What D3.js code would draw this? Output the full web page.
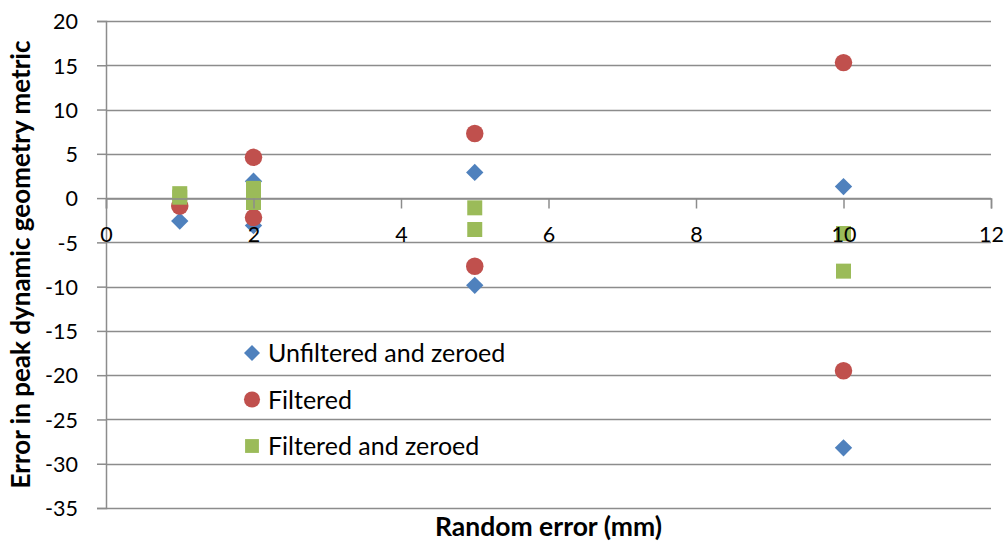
<!DOCTYPE html>
<html>
<head>
<meta charset="utf-8">
<script src="https://cdn.jsdelivr.net/npm/d3@7"></script>
<style>
  body { margin: 0; background: #fff; }
  text { font-family: Lato, "Open Sans", sans-serif; fill: #000; }
  .axis-title { font-weight: bold; }
  .tick text { font-size: 21.5px; }
</style>
</head>
<body>
<div id="chart-area"></div>
<script>
// DATA

let seriesNames = ["Unfiltered and zeroed", "Filtered", "Filtered and zeroed"];

let unfilteredX = [1, 2, 2, 5, 5, 10, 10];
let unfilteredY = [-2.6, 1.9, -3.1, 2.9, -9.85, 1.3, -28.2];

let filteredX = [1, 2, 2, 5, 5, 10, 10];
let filteredY = [-0.9, 4.6, -2.2, 7.3, -7.7, 15.3, -19.5];

let zeroedX = [1, 1, 2, 2, 5, 5, 10, 10];
let zeroedY = [0.5, 0.1, 1.1, -0.5, -1.1, -3.55, -4.0, -8.25];

let xTicks = [0, 2, 4, 6, 8, 10, 12];
let yTicks = [-35, -30, -25, -20, -15, -10, -5, 0, 5, 10, 15, 20];

let colors = ["#4F81BD", "#C0504D", "#9BBB59"];
// diamond = square turned by 45 degrees
let symbols = [d3.symbolSquare, d3.symbolCircle, d3.symbolSquare];
let symbolSizes = [150, 240, 225];
let rotations = [45, 0, 0];

// CHART AREA

let margin = { top: 21, right: 17, bottom: 34, left: 106 },
  width = 1008 - margin.left - margin.right,
  height = 542 - margin.top - margin.bottom;

let svg = d3
  .select("#chart-area")
  .append("svg")
  .attr("width", width + margin.left + margin.right)
  .attr("height", height + margin.top + margin.bottom)
  .append("g")
  .attr("transform", "translate(" + margin.left + "," + margin.top + ")");

// SCALES

let x = d3.scaleLinear().domain([0, 12]).range([0, width]);
let y = d3.scaleLinear().domain([-35, 20]).range([height, 0]);

// GRIDLINES

svg
  .selectAll(".grid")
  .data(yTicks)
  .enter()
  .append("line")
  .attr("class", "grid")
  .attr("x1", 0)
  .attr("x2", width)
  .attr("y1", d => Math.round(y(d)) + 0.5)
  .attr("y2", d => Math.round(y(d)) + 0.5)
  .attr("stroke", "#8c8c8c")
  .attr("stroke-width", 1.5);

// Y AXIS

let yAxis = d3
  .axisLeft(y)
  .tickValues(yTicks)
  .tickFormat(d => String(d))
  .tickSize(9)
  .tickPadding(19);
let yAxisGroup = svg.append("g").attr("class", "y-axis axis").call(yAxis);
yAxisGroup.select(".domain").attr("stroke", "#8c8c8c").attr("stroke-width", 1.5);
yAxisGroup.selectAll(".tick line").attr("stroke", "#8c8c8c").attr("stroke-width", 1.5);
yAxisGroup.selectAll(".tick text").attr("dy", "0.36em");

// SERIES

let series = [
  unfilteredX.map((d, i) => ({ x: d, y: unfilteredY[i] })),
  filteredX.map((d, i) => ({ x: d, y: filteredY[i] })),
  zeroedX.map((d, i) => ({ x: d, y: zeroedY[i] }))
];

series.forEach(function(data, s) {
  svg
    .selectAll(".mark-" + s)
    .data(data)
    .enter()
    .append("path")
    .attr("class", "mark-" + s)
    .attr("d", d3.symbol().type(symbols[s]).size(symbolSizes[s]))
    .attr("transform", d =>
      "translate(" + x(d.x) + "," + y(d.y) + ") rotate(" + rotations[s] + ")"
    )
    .attr("fill", colors[s]);
});

// X AXIS (crosses at y = 0)

let xAxis = d3
  .axisBottom(x)
  .tickValues(xTicks)
  .tickFormat(d => String(d))
  .tickSize(10)
  .tickPadding(18);
let xAxisGroup = svg
  .append("g")
  .attr("class", "x-axis axis")
  .attr("transform", "translate(0," + (Math.round(y(0)) + 0.5) + ")")
  .call(xAxis);
xAxisGroup.select(".domain").attr("stroke", "#8c8c8c").attr("stroke-width", 1.5);
xAxisGroup.selectAll(".tick line").attr("stroke", "#8c8c8c").attr("stroke-width", 1.5);

// LEGEND

let legend = svg
  .selectAll(".legend")
  .data(seriesNames)
  .enter()
  .append("g")
  .attr("class", "legend")
  .attr("transform", (d, i) => "translate(146," + (332 + i * 46.5) + ")");

legend
  .append("path")
  .attr("d", (d, i) => d3.symbol().type(symbols[i]).size(symbolSizes[i] * 0.85)())
  .attr("transform", (d, i) => "rotate(" + rotations[i] + ")")
  .attr("fill", (d, i) => colors[i]);

legend
  .append("text")
  .attr("x", 16)
  .attr("dy", "0.36em")
  .style("font-size", "25px")
  .text(d => d);

// TITLES

svg
  .append("text")
  .attr("class", "axis-title")
  .attr("x", width / 2)
  .attr("y", height + 28)
  .style("text-anchor", "middle")
  .style("font-size", "26.5px")
  .text("Random error (mm)");

svg
  .append("text")
  .attr("class", "axis-title")
  .attr("transform", "rotate(-90)")
  .attr("x", -(height / 2))
  .attr("y", -margin.left + 30)
  .style("text-anchor", "middle")
  .style("font-size", "26px")
  .text("Error in peak dynamic geometry metric");
</script>
</body>
</html>
